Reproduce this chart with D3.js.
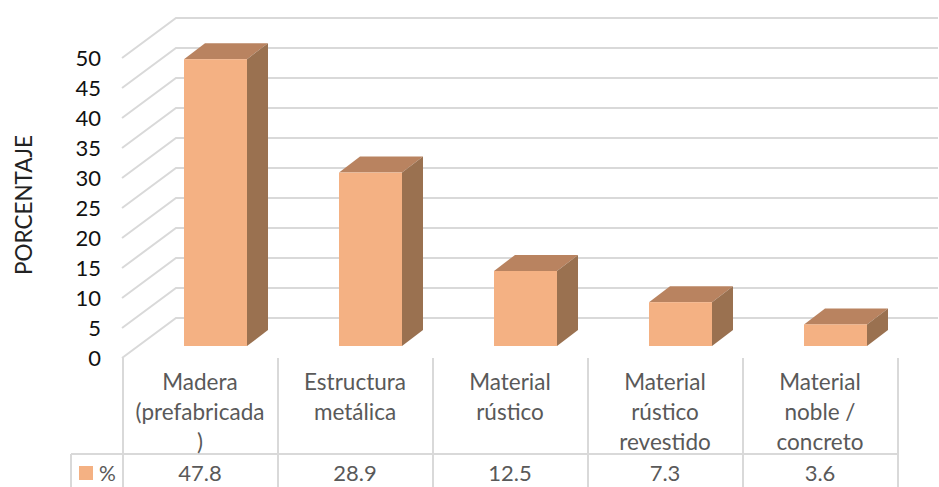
<!DOCTYPE html>
<html>
<head>
<meta charset="utf-8">
<script src="https://cdn.jsdelivr.net/npm/d3@7"></script>
<style>
  html, body { margin: 0; padding: 0; background: #fff; }
  text { font-family: Lato, "Open Sans", sans-serif; }
</style>
</head>
<body>
<div id="graph"></div>
<script>
var categories = [
  ["Madera", "(prefabricada", ")"],
  ["Estructura", "metálica"],
  ["Material", "rústico"],
  ["Material", "rústico", "revestido"],
  ["Material", "noble /", "concreto"]
];
var values = [47.8, 28.9, 12.5, 7.3, 3.6];
var valueLabels = ["47.8", "28.9", "12.5", "7.3", "3.6"];
var yTicks = [0, 5, 10, 15, 20, 25, 30, 35, 40, 45, 50];
var seriesName = "%";
var yTitle = "PORCENTAJE";

var width = 939, height = 487;

var svg = d3.select("#graph")
  .append("svg")
    .attr("width", width)
    .attr("height", height)
    .style("display", "block");

var x = d3.scaleBand()
  .domain(d3.range(values.length))
  .range([123, 898])
  .paddingInner(0)
  .paddingOuter(0);

var y = d3.scaleLinear()
  .domain([0, 50])
  .range([358, 58]);

var gridColor = "#d9d9d9";
var depthX = 54, depthY = -40;    // floor depth of the 3D box
var barDx = 21, barDy = -16;      // depth of each bar
var floorDy = -12;                // bars sit a little behind the front edge
var barWidth = 63;

// gridlines, running back along the side wall and then across the back wall
var grid = svg.append("g");
yTicks.forEach(function(t) {
  grid.append("polyline")
    .attr("points", [[122, y(t)], [122 + depthX, y(t) + depthY], [938, y(t) + depthY]].join(" "))
    .attr("fill", "none")
    .attr("stroke", gridColor)
    .attr("stroke-width", 2);
});

// y tick labels
svg.append("g").selectAll("text")
  .data(yTicks)
  .join("text")
    .attr("x", 101)
    .attr("y", function(d) { return y(d) + 8; })
    .attr("text-anchor", "end")
    .attr("font-size", 22)
    .attr("fill", "#111")
    .text(function(d) { return d; });

svg.append("text")
  .attr("transform", "translate(32,205) rotate(-90)")
  .attr("text-anchor", "middle")
  .attr("font-size", 22.5)
  .attr("fill", "#222")
  .text(yTitle);

// bars: front face, top and side
var bars = svg.append("g").selectAll("g")
  .data(values)
  .join("g");

function barLeft(i) { return x(i) + (x.bandwidth() - barWidth) / 2 + 15; }
function barTop(v) { return y(v) + floorDy; }
var barBottom = y(0) + floorDy;

bars.append("polygon")
  .attr("fill", "#b98360")
  .attr("points", function(d, i) {
    var l = barLeft(i), t = barTop(d);
    return [[l, t], [l + barDx, t + barDy], [l + barWidth + barDx, t + barDy], [l + barWidth, t]].join(" ");
  });

bars.append("polygon")
  .attr("fill", "#9a7150")
  .attr("points", function(d, i) {
    var r = barLeft(i) + barWidth, t = barTop(d);
    return [[r, t], [r + barDx, t + barDy], [r + barDx, barBottom + barDy], [r, barBottom]].join(" ");
  });

bars.append("rect")
  .attr("fill", "#f4b183")
  .attr("x", function(d, i) { return barLeft(i); })
  .attr("y", function(d) { return barTop(d); })
  .attr("width", barWidth)
  .attr("height", function(d) { return barBottom - barTop(d); });

// data table under the plot
var table = svg.append("g")
  .attr("stroke", gridColor)
  .attr("stroke-width", 2);

d3.range(values.length + 1).forEach(function(i) {
  var lx = i < values.length ? x(i) : x.range()[1];
  table.append("line")
    .attr("x1", lx).attr("x2", lx)
    .attr("y1", y(0)).attr("y2", height);
});
table.append("line")
  .attr("x1", 71).attr("x2", 898)
  .attr("y1", 454).attr("y2", 454);
table.append("line")
  .attr("x1", 71).attr("x2", 71)
  .attr("y1", 454).attr("y2", height);

categories.forEach(function(lines, i) {
  svg.append("text")
    .attr("text-anchor", "middle")
    .attr("font-size", 22.5)
    .attr("fill", "#595959")
    .selectAll("tspan")
    .data(lines)
    .join("tspan")
      .attr("x", x(i) + x.bandwidth() / 2 - 0.5)
      .attr("y", function(d, k) { return 390 + k * 30; })
      .text(function(d) { return d; });
});

svg.append("g").selectAll("text")
  .data(valueLabels)
  .join("text")
    .attr("x", function(d, i) { return x(i) + x.bandwidth() / 2 - 0.5; })
    .attr("y", 481)
    .attr("text-anchor", "middle")
    .attr("font-size", 22)
    .attr("fill", "#595959")
    .text(function(d) { return d; });

// series key in the first table column
svg.append("rect")
  .attr("x", 79).attr("y", 466)
  .attr("width", 14).attr("height", 14)
  .attr("fill", "#f4b183");
svg.append("text")
  .attr("x", 99).attr("y", 481)
  .attr("font-size", 21)
  .attr("fill", "#595959")
  .text(seriesName);
</script>
</body>
</html>
